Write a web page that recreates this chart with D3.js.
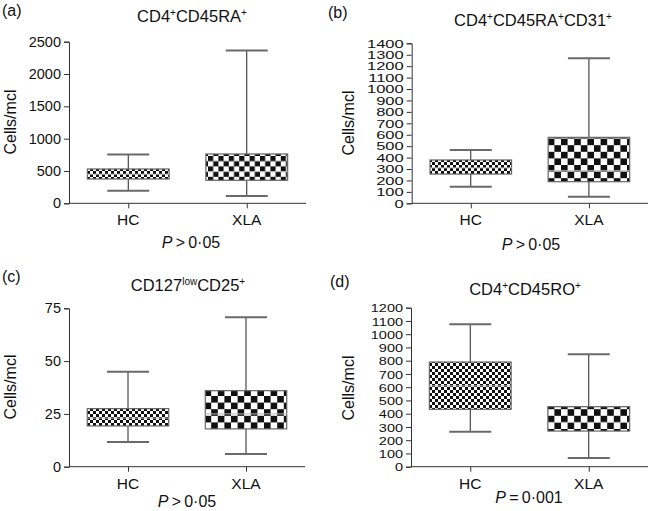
<!DOCTYPE html>
<html><head><meta charset="utf-8">
<script src="https://cdn.jsdelivr.net/npm/d3@7"></script>
<style>
html,body{margin:0;padding:0;background:#fff;}
svg{display:block;}
text{font-family:"Liberation Sans",Arial,sans-serif;fill:#111;}
</style></head>
<body>
<svg id="chart" width="649" height="511"></svg>
<script>
// ---- DATA ----
const categories = ["HC", "XLA"];
// box stats: [min, q1, median, q3, max]
const panelA_HC  = [195, 376, 450, 531, 755];
const panelA_XLA = [113, 356, 490, 763, 2365];
const panelB_HC  = [145, 256, 310, 379, 466];
const panelB_XLA = [58, 189, 285, 577, 1270];
const panelC_HC  = [11.7, 19.3, 23, 27.5, 45];
const panelC_XLA = [6, 17.9, 25, 36, 70.8];
const panelD_HC  = [264, 433, 610, 790, 1075];
const panelD_XLA = [66, 269, 335, 453, 848];
const ticksA = [0, 500, 1000, 1500, 2000, 2500];
const ticksB = [0,100,200,300,400,500,600,700,800,900,1000,1100,1200,1300,1400];
const ticksC = [0, 25, 50, 75];
const ticksD = [0,100,200,300,400,500,600,700,800,900,1000,1100,1200];
const panelLetters = ["(a)", "(b)", "(c)", "(d)"];
const yLabel = "Cells/mcl";
const pValues = [["P", ">", "0·05"], ["P", ">", "0·05"], ["P", ">", "0·05"], ["P", "=", "0·001"]];

// ---- LAYOUT / STYLE ----
const svg = d3.select("#chart");
const defs = svg.append("defs");
function checker(id, s) {
  const p = defs.append("pattern").attr("id", id).attr("patternUnits", "userSpaceOnUse")
    .attr("width", 2 * s).attr("height", 2 * s);
  p.append("rect").attr("width", 2 * s).attr("height", 2 * s).attr("fill", "#fff");
  p.append("rect").attr("width", s).attr("height", s).attr("fill", "#111");
  p.append("rect").attr("x", s).attr("y", s).attr("width", s).attr("height", s).attr("fill", "#111");
}
checker("fine", 3);
checker("coarseA", 5.2);
checker("coarse", 6.6);

const panels = [
  {x0: 69, x1: 306, yTop: 41.7, yBot: 203.3, domain: [0, 2500], ticks: ticksA, data: [panelA_HC, panelA_XLA],
   title: [["CD4"], ["+", "sup"], ["CD45RA"], ["+", "sup"]], tx: 192, ty: 22, lx: 2, ly: 16,
   labX: 16, labY: 122, py: 248, px: 191, pat: ["fine", "coarseA"], fs: 14.5, sy: 1},
  {x0: 411.7, x1: 648, yTop: 43.3, yBot: 203.3, domain: [0, 1400], ticks: ticksB, data: [panelB_HC, panelB_XLA],
   title: [["CD4"], ["+", "sup"], ["CD45RA"], ["+", "sup"], ["CD31"], ["+", "sup"]], tx: 533, ty: 26, lx: 328, ly: 18,
   labX: 354, labY: 123, py: 250, px: 531, pat: ["fine", "coarse"], fs: 16.5, sy: 0.64},
  {x0: 69, x1: 305, yTop: 308.3, yBot: 466.7, domain: [0, 75], ticks: ticksC, data: [panelC_HC, panelC_XLA],
   title: [["CD127"], ["low", "sup"], ["CD25"], ["+", "sup"]], tx: 188, ty: 291, lx: 2, ly: 282,
   labX: 16, labY: 387, py: 507, px: 187, pat: ["fine", "coarse"], fs: 14.5, sy: 1},
  {x0: 411, x1: 648, yTop: 307.7, yBot: 466.7, domain: [0, 1200], ticks: ticksD, data: [panelD_HC, panelD_XLA],
   title: [["CD4"], ["+", "sup"], ["CD45RO"], ["+", "sup"]], tx: 525, ty: 295, lx: 330, ly: 287,
   labX: 354, labY: 388, py: 503, px: 529, pat: ["fine", "coarse"], fs: 14.5, sy: 0.8}
];

panels.forEach((P, i) => {
  const g = svg.append("g");
  const x = d3.scalePoint().domain(categories).range([P.x0, P.x1]).padding(0.5);
  const y = d3.scaleLinear().domain(P.domain).range([P.yBot, P.yTop]);
  const step = x.step();
  const bw = step * 0.69, cw = 42;

  // y axis
  const yAxis = d3.axisLeft(y).tickValues(P.ticks).tickSize(5).tickPadding(3).tickFormat(d3.format("d"));
  const ya = g.append("g").attr("transform", `translate(${P.x0},0)`).call(yAxis);
  ya.select(".domain").attr("stroke", "#333");
  ya.selectAll(".tick line").attr("stroke", "#333");
  ya.selectAll(".tick text").style("font-size", P.fs + "px")
    .attr("fill", "#111").style("font-family", '"Liberation Sans",Arial,sans-serif');
  if (P.sy !== 1) {
    ya.selectAll(".tick text").attr("transform", `scale(1,${P.sy})`).attr("y", 0).attr("dy", "0.36em");
  }

  // x axis
  const xAxis = d3.axisBottom(x).tickSize(5).tickFormat("");
  const xa = g.append("g").attr("transform", `translate(0,${P.yBot})`).call(xAxis);
  xa.select(".domain").attr("stroke", "#333").attr("d", `M${P.x0},0H${P.x1}`);
  xa.selectAll(".tick line").attr("stroke", "#333");
  g.selectAll(".cat").data(categories).join("text")
    .attr("x", d => x(d)).attr("y", P.yBot + 22).attr("text-anchor", "middle")
    .style("font-size", "15.5px").text(d => d);

  // boxes
  P.data.forEach((s, k) => {
    const cx = x(categories[k]);
    const [mn, q1, md, q3, mx] = s;
    g.append("line").attr("x1", cx).attr("x2", cx).attr("y1", y(mx)).attr("y2", y(mn))
      .attr("stroke", "#222").attr("stroke-width", 1);
    [mn, mx].forEach(v => g.append("line").attr("x1", cx - cw / 2).attr("x2", cx + cw / 2)
      .attr("y1", y(v)).attr("y2", y(v)).attr("stroke", "#6a6a6a").attr("stroke-width", 2));
    g.append("rect").attr("x", cx - bw / 2).attr("width", bw).attr("y", y(q3)).attr("height", y(q1) - y(q3))
      .attr("fill", `url(#${P.pat[k]})`).attr("stroke", "#666").attr("stroke-width", 1.2);
    g.append("line").attr("x1", cx - bw / 2).attr("x2", cx + bw / 2).attr("y1", y(md)).attr("y2", y(md))
      .attr("stroke", "#bbb").attr("stroke-width", 1);
  });

  // title
  const t = g.append("text").attr("x", P.tx).attr("y", P.ty).attr("text-anchor", "middle").style("font-size", "16.5px");
  let prevSup = false;
  P.title.forEach(([s, sup]) => {
    const isSup = sup === "sup";
    const ts = t.append("tspan").text(s).attr("dy", isSup ? (prevSup ? 0 : -6) : (prevSup ? 6 : 0));
    if (isSup) ts.style("font-size", "10px");
    prevSup = isSup;
  });

  // panel letter
  g.append("text").attr("x", P.lx).attr("y", P.ly).style("font-size", "16px").text(panelLetters[i]);

  // y label
  g.append("text").attr("transform", `translate(${P.labX},${P.labY}) rotate(-90)`).attr("text-anchor", "middle")
    .style("font-size", "16px").text(yLabel);

  // p value
  const pv = pValues[i];
  const pt = g.append("text").attr("x", P.px).attr("y", P.py).attr("text-anchor", "middle").style("font-size", "16px");
  pt.append("tspan").style("font-style", "italic").text(pv[0]);
  pt.append("tspan").text("\u2009" + pv[1] + "\u2009");
  pt.append("tspan").text(pv[2]);
});
</script>
</body></html>
